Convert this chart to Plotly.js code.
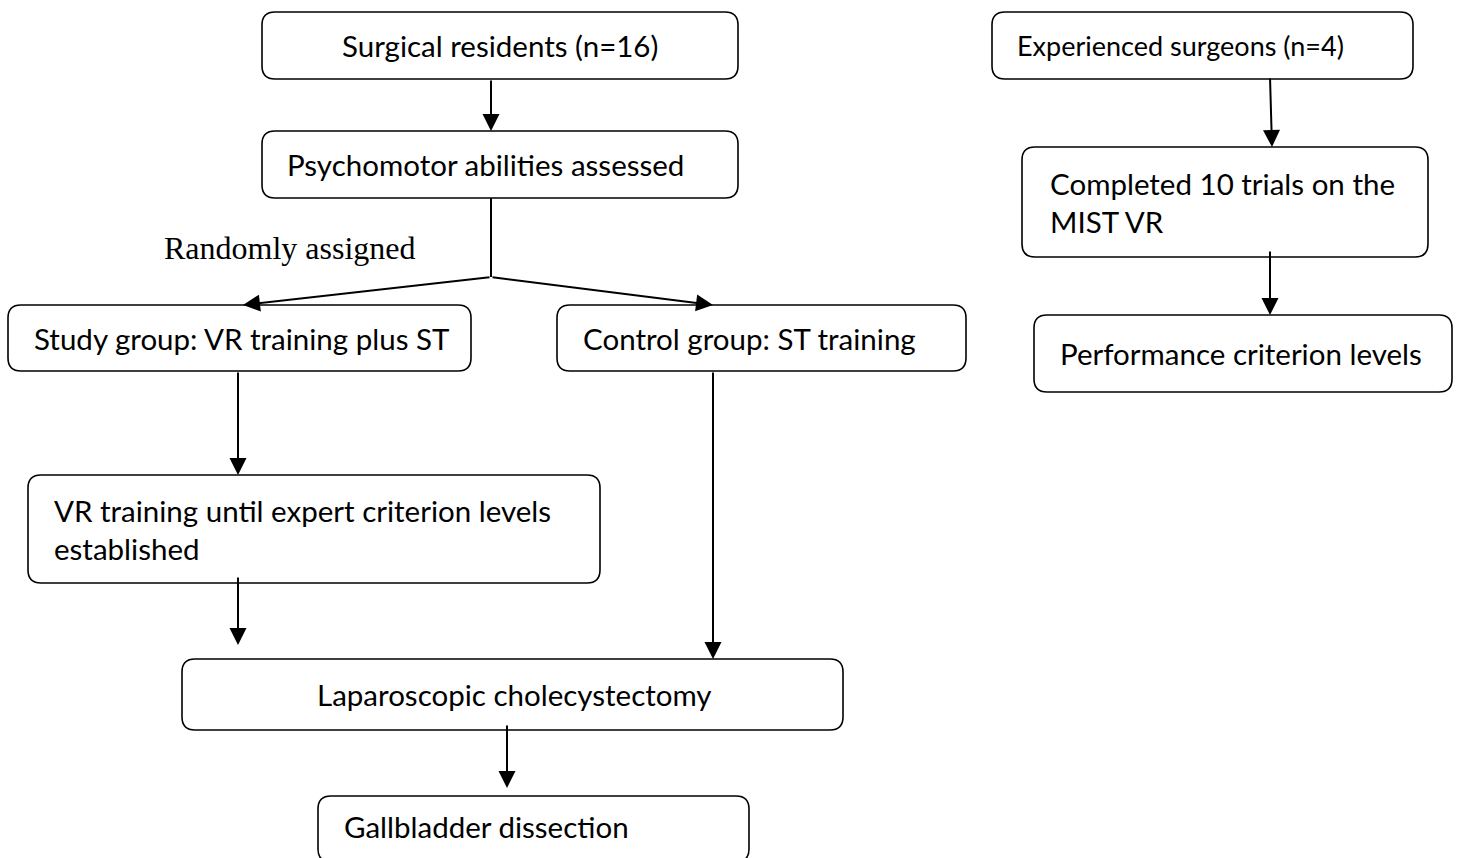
<!DOCTYPE html>
<html>
<head>
<meta charset="utf-8">
<script src="https://cdn.plot.ly/plotly-3.0.1.min.js"></script>
<style>html,body{margin:0;padding:0;background:#fff;}#chart{width:1458px;height:858px;}</style>
</head>
<body>
<div id="chart"></div>
<script>
// Node labels (content)
const boxLabels = [
  "Surgical residents (n=16)",
  "Psychomotor abilities assessed",
  "Study group: VR training plus ST",
  "Control group: ST training",
  "VR training until expert criterion levels<br>established",
  "Laparoscopic cholecystectomy",
  "Gallbladder dissection",
  "Experienced surgeons (n=4)",
  "Completed 10 trials on the<br>MIST VR",
  "Performance criterion levels"
];
const edgeLabel = "Randomly assigned";
// Connections: [from node, to node]
const edges = [[0,1],[1,2],[1,3],[2,4],[4,5],[3,5],[5,6],[7,8],[8,9]];

// Geometry (pixel layout) : x0, y0, x1, y1, text x, text anchor, font size
const boxGeom = [
  [262, 12, 738, 79, 500, "center", 29.5],
  [262, 131, 738, 198, 285, "left", 29.5],
  [8, 305, 471, 371, 32, "left", 29.5],
  [557, 305, 966, 371, 581, "left", 29.5],
  [28, 475, 600, 583, 52, "left", 29.5],
  [182, 659, 843, 730, 514, "center", 29.5],
  [318, 796, 749, 862, 342, "left", 29.5],
  [992, 12, 1413, 79, 1015, "left", 27],
  [1022, 147, 1428, 257, 1048, "left", 29.5],
  [1034, 315, 1452, 392, 1058, "left", 29.5]
];
// Arrow paths: list of points per edge (tail ... head)
const edgeGeom = [
  [[491,79],[491,131]],
  [[491,198],[491,277],[243,305]],
  [[491,277],[713,305]],
  [[238,371],[238,475]],
  [[238,576],[238,645]],
  [[713,371],[713,659]],
  [[507,724],[507,788]],
  [[1270,77],[1272,147]],
  [[1270,250],[1270,315]]
];

function rrect(x0,y0,x1,y1,r){
  return `M${x0+r},${y0} L${x1-r},${y0} Q${x1},${y0} ${x1},${y0+r} L${x1},${y1-r} Q${x1},${y1} ${x1-r},${y1} L${x0+r},${y1} Q${x0},${y1} ${x0},${y1-r} L${x0},${y0+r} Q${x0},${y0} ${x0+r},${y0} Z`;
}

const shapes = [];
const annotations = [];
boxLabels.forEach((lab,i)=>{
  const g = boxGeom[i];
  shapes.push({type:"path", xref:"x", yref:"y", path:rrect(g[0],g[1],g[2],g[3],13),
    line:{color:"#000", width:1.6}, fillcolor:"rgba(255,255,255,0)"});
  annotations.push({x:g[4], y:(g[1]+Math.min(g[3],858))/2 + (i===6?-1:0), xref:"x", yref:"y",
    text:lab, showarrow:false, xanchor:g[5], yanchor:"middle", align:"left",
    font:{family:"Lato, 'Open Sans', sans-serif", size:g[6], color:"#000"}});
});
edges.forEach((e,k)=>{
  const pts = edgeGeom[k];
  for(let j=0;j<pts.length-2;j++){
    shapes.push({type:"line", xref:"x", yref:"y", x0:pts[j][0], y0:pts[j][1], x1:pts[j+1][0], y1:pts[j+1][1],
      line:{color:"#000", width:2}});
  }
  const t = pts[pts.length-2], h = pts[pts.length-1];
  annotations.push({x:h[0], y:h[1], ax:t[0], ay:t[1], xref:"x", yref:"y", axref:"x", ayref:"y",
    text:"", showarrow:true, arrowhead:2, arrowsize:1.7, arrowwidth:2, arrowcolor:"#000", standoff:0});
});
annotations.push({x:162, y:248, xref:"x", yref:"y", text:edgeLabel, showarrow:false,
  xanchor:"left", yanchor:"middle", font:{family:"'Liberation Serif', 'Times New Roman', serif", size:32, color:"#000"}});

const layout = {
  width:1458, height:858,
  margin:{l:0,r:0,t:0,b:0},
  paper_bgcolor:"#fff", plot_bgcolor:"#fff",
  xaxis:{range:[0,1458], visible:false, fixedrange:true},
  yaxis:{range:[858,0], visible:false, fixedrange:true},
  shapes:shapes, annotations:annotations, showlegend:false
};
Plotly.newPlot("chart", [], layout, {displayModeBar:false, staticPlot:true});
</script>
</body>
</html>
